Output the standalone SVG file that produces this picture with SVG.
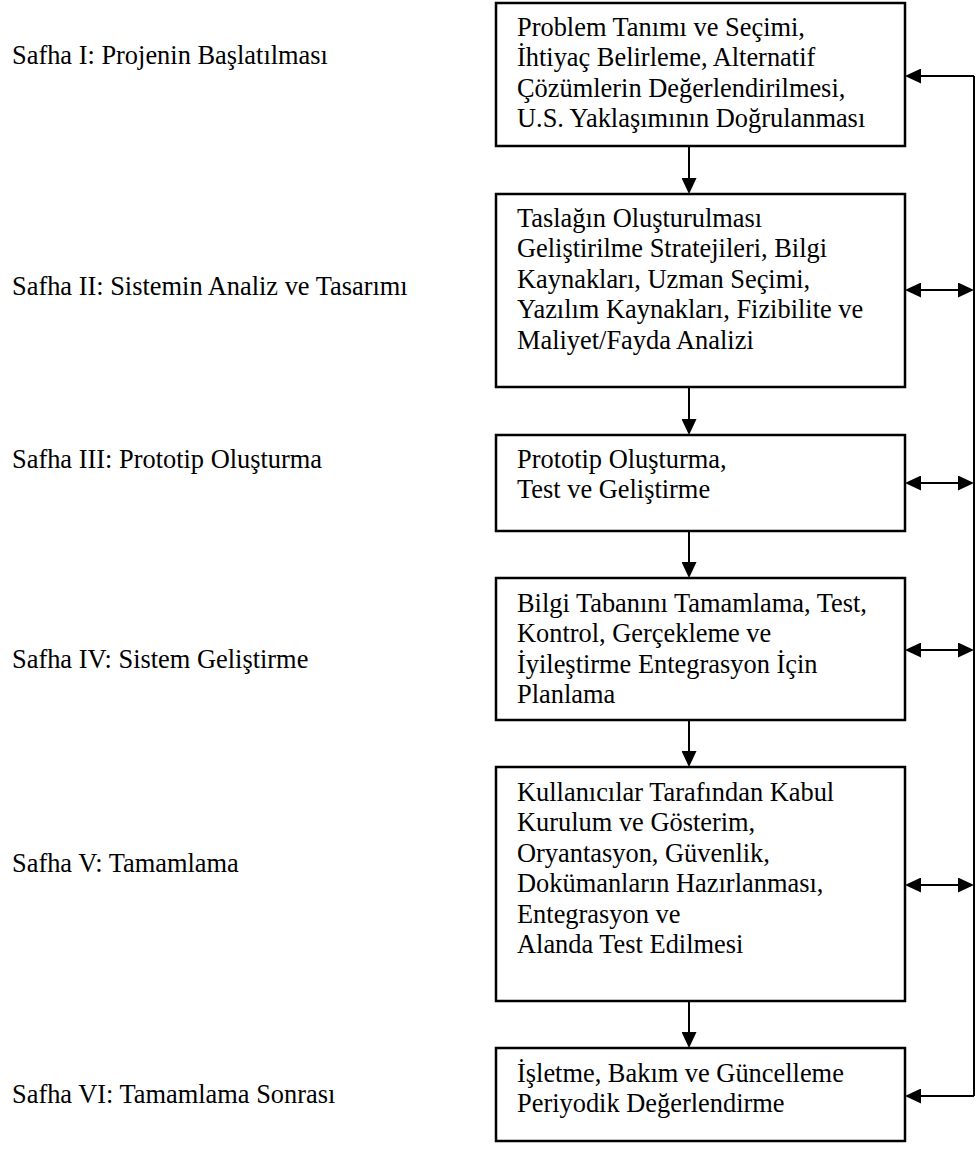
<svg xmlns="http://www.w3.org/2000/svg" width="977" height="1156" viewBox="0 0 977 1156">
  <style>
    .bg { fill: #ffffff; }
    .box { fill: #ffffff; stroke: #000000; stroke-width: 2.5; }
    .txt { font-family: "Liberation Serif", "Times New Roman", serif; font-size: 26.4px; fill: #000000; }
    .conn { fill: none; stroke: #000000; stroke-width: 2; }
  </style>
  <defs>
    <marker id="head" viewBox="0 0 16 15" markerUnits="userSpaceOnUse" markerWidth="16" markerHeight="15" refX="6" refY="7.5" orient="auto-start-reverse">
      <path d="M0,0 L16,7.5 L0,15 z" fill="#000000"/>
    </marker>
  </defs>

  <rect class="bg" x="0" y="0" width="977" height="1156"/>

  <!-- phase labels on the left -->
  <g id="labels" class="txt">
    <text x="12" y="64">Safha I: Projenin Başlatılması</text>
    <text x="12" y="295">Safha II: Sistemin Analiz ve Tasarımı</text>
    <text x="12" y="468">Safha III: Prototip Oluşturma</text>
    <text x="12" y="668">Safha IV: Sistem Geliştirme</text>
    <text x="12" y="872">Safha V: Tamamlama</text>
    <text x="12" y="1103">Safha VI: Tamamlama Sonrası</text>
  </g>

  <!-- process boxes -->
  <g id="n1">
    <rect class="box" x="496" y="3" width="409" height="143"/>
    <text class="txt">
      <tspan x="517" y="36">Problem Tanımı ve Seçimi,</tspan>
      <tspan x="517" y="66.4">İhtiyaç Belirleme, Alternatif</tspan>
      <tspan x="517" y="96.8">Çözümlerin Değerlendirilmesi,</tspan>
      <tspan x="517" y="127.2">U.S. Yaklaşımının Doğrulanması</tspan>
    </text>
  </g>
  <g id="n2">
    <rect class="box" x="496" y="194" width="409" height="193"/>
    <text class="txt">
      <tspan x="517" y="227">Taslağın Oluşturulması</tspan>
      <tspan x="517" y="257.4">Geliştirilme Stratejileri, Bilgi</tspan>
      <tspan x="517" y="287.8">Kaynakları, Uzman Seçimi,</tspan>
      <tspan x="517" y="318.2">Yazılım Kaynakları, Fizibilite ve</tspan>
      <tspan x="517" y="348.6">Maliyet/Fayda Analizi</tspan>
    </text>
  </g>
  <g id="n3">
    <rect class="box" x="496" y="435" width="409" height="96"/>
    <text class="txt">
      <tspan x="517" y="468">Prototip Oluşturma,</tspan>
      <tspan x="517" y="498.4">Test ve Geliştirme</tspan>
    </text>
  </g>
  <g id="n4">
    <rect class="box" x="496" y="578" width="409" height="142"/>
    <text class="txt">
      <tspan x="517" y="612">Bilgi Tabanını Tamamlama, Test,</tspan>
      <tspan x="517" y="642.4">Kontrol, Gerçekleme ve</tspan>
      <tspan x="517" y="672.8">İyileştirme Entegrasyon İçin</tspan>
      <tspan x="517" y="703.2">Planlama</tspan>
    </text>
  </g>
  <g id="n5">
    <rect class="box" x="496" y="767" width="409" height="234"/>
    <text class="txt">
      <tspan x="517" y="801">Kullanıcılar Tarafından Kabul</tspan>
      <tspan x="517" y="831.4">Kurulum ve Gösterim,</tspan>
      <tspan x="517" y="861.8">Oryantasyon, Güvenlik,</tspan>
      <tspan x="517" y="892.2">Dokümanların Hazırlanması,</tspan>
      <tspan x="517" y="922.6">Entegrasyon ve</tspan>
      <tspan x="517" y="953">Alanda Test Edilmesi</tspan>
    </text>
  </g>
  <g id="n6">
    <rect class="box" x="496" y="1048" width="409" height="93"/>
    <text class="txt">
      <tspan x="517" y="1082">İşletme, Bakım ve Güncelleme</tspan>
      <tspan x="517" y="1112.4">Periyodik Değerlendirme</tspan>
    </text>
  </g>

  <!-- connectors -->
  <g id="connectors" class="conn">
    <!-- downward flow between phases -->
    <line x1="689" y1="147" x2="689" y2="184" marker-end="url(#head)"/>
    <line x1="689" y1="388" x2="689" y2="425" marker-end="url(#head)"/>
    <line x1="689" y1="532" x2="689" y2="568" marker-end="url(#head)"/>
    <line x1="689" y1="721" x2="689" y2="757" marker-end="url(#head)"/>
    <line x1="689" y1="1002" x2="689" y2="1038" marker-end="url(#head)"/>

    <!-- feedback bus on the right -->
    <line x1="974" y1="76" x2="974" y2="1096"/>
    <line x1="974" y1="76" x2="915" y2="76" marker-end="url(#head)"/>
    <line x1="974" y1="1096" x2="915" y2="1096" marker-end="url(#head)"/>

    <!-- two-way links to the bus -->
    <line x1="915" y1="290" x2="964" y2="290" marker-start="url(#head)" marker-end="url(#head)"/>
    <line x1="915" y1="483" x2="964" y2="483" marker-start="url(#head)" marker-end="url(#head)"/>
    <line x1="915" y1="650" x2="964" y2="650" marker-start="url(#head)" marker-end="url(#head)"/>
    <line x1="915" y1="885" x2="964" y2="885" marker-start="url(#head)" marker-end="url(#head)"/>
  </g>
</svg>
